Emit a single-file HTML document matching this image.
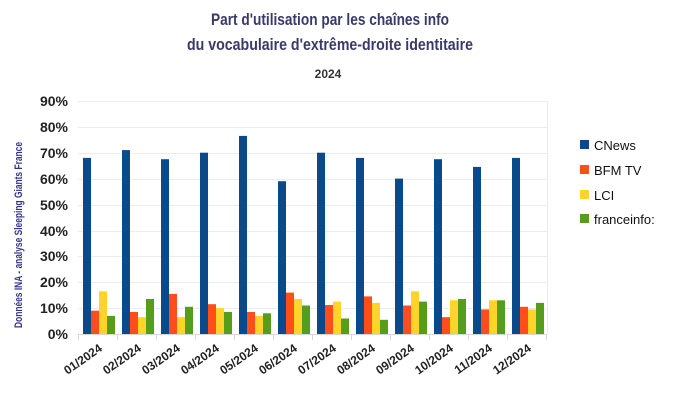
<!DOCTYPE html>
<html><head><meta charset="utf-8"><style>
html,body{margin:0;padding:0;background:#fff;}
svg{display:block;}
.t{font-family:"Liberation Sans Narrow","Liberation Sans",sans-serif;font-weight:bold;}
</style></head><body>
<svg width="684" height="403" viewBox="0 0 684 403" xmlns="http://www.w3.org/2000/svg">
<rect width="684" height="403" fill="#fff"/>
<g class="t" fill="#3a3a6a" text-anchor="middle">
<text x="330" y="25" font-size="17" textLength="238" lengthAdjust="spacingAndGlyphs">Part d'utilisation par les chaînes info</text>
<text x="330" y="50" font-size="17" textLength="286" lengthAdjust="spacingAndGlyphs">du vocabulaire d'extrême-droite identitaire</text>
<text x="328" y="78" font-size="12" fill="#333">2024</text>
</g>
<g stroke="#ececec" stroke-width="1">
<line x1="78" x2="547" y1="101.5" y2="101.5"/><line x1="78" x2="547" y1="127.5" y2="127.5"/>
<line x1="78" x2="547" y1="153.5" y2="153.5"/><line x1="78" x2="547" y1="179.5" y2="179.5"/>
<line x1="78" x2="547" y1="205.5" y2="205.5"/><line x1="78" x2="547" y1="231.5" y2="231.5"/>
<line x1="78" x2="547" y1="256.5" y2="256.5"/><line x1="78" x2="547" y1="282.5" y2="282.5"/>
<line x1="78" x2="547" y1="308.5" y2="308.5"/>
<line x1="547.5" x2="547.5" y1="101" y2="334"/>
</g>
<g stroke="#d8d8d8"><line x1="78" x2="547" y1="334.5" y2="334.5"/>
<line x1="78.5" x2="78.5" y1="334" y2="340"/><line x1="117.5" x2="117.5" y1="334" y2="340"/><line x1="156.5" x2="156.5" y1="334" y2="340"/><line x1="195.5" x2="195.5" y1="334" y2="340"/><line x1="234.5" x2="234.5" y1="334" y2="340"/><line x1="273.5" x2="273.5" y1="334" y2="340"/><line x1="312.5" x2="312.5" y1="334" y2="340"/><line x1="351.5" x2="351.5" y1="334" y2="340"/><line x1="390.5" x2="390.5" y1="334" y2="340"/><line x1="429.5" x2="429.5" y1="334" y2="340"/><line x1="468.5" x2="468.5" y1="334" y2="340"/><line x1="507.5" x2="507.5" y1="334" y2="340"/><line x1="546.5" x2="546.5" y1="334" y2="340"/>
</g>
<g class="t" font-size="14" fill="#222" text-anchor="end">
<text x="68" y="106">90%</text><text x="68" y="132">80%</text><text x="68" y="158">70%</text>
<text x="68" y="184">60%</text><text x="68" y="210">50%</text><text x="68" y="236">40%</text>
<text x="68" y="261">30%</text><text x="68" y="287">20%</text><text x="68" y="313">10%</text>
<text x="68" y="339">0%</text>
</g>
<text class="t" x="0" y="0" font-size="11" fill="#33338a" text-anchor="middle" transform="translate(22,235) rotate(-90)" textLength="186" lengthAdjust="spacingAndGlyphs">Données INA - analyse Sleeping Giants France</text>
<g fill="#0b4a8a">
<rect x="83" y="157.9" width="8" height="176.1"/><rect x="122" y="150.1" width="8" height="183.9"/>
<rect x="161" y="159.2" width="8" height="174.8"/><rect x="200" y="152.7" width="8" height="181.3"/>
<rect x="239" y="135.9" width="8" height="198.1"/><rect x="278" y="181.2" width="8" height="152.8"/>
<rect x="317" y="152.7" width="8" height="181.3"/><rect x="356" y="157.9" width="8" height="176.1"/>
<rect x="395" y="178.6" width="8" height="155.4"/><rect x="434" y="159.2" width="8" height="174.8"/>
<rect x="473" y="166.9" width="8" height="167.1"/><rect x="512" y="157.9" width="8" height="176.1"/>
</g>
<g fill="#ff4e1a">
<rect x="91" y="310.7" width="8" height="23.3"/><rect x="130" y="312" width="8" height="22"/>
<rect x="169" y="293.9" width="8" height="40.1"/><rect x="208" y="304.2" width="8" height="29.8"/>
<rect x="247" y="312" width="8" height="22"/><rect x="286" y="292.6" width="8" height="41.4"/>
<rect x="325" y="305" width="8" height="29"/><rect x="364" y="296.4" width="8" height="37.6"/>
<rect x="403" y="305.5" width="8" height="28.5"/><rect x="442" y="317.2" width="8" height="16.8"/>
<rect x="481" y="309.4" width="8" height="24.6"/><rect x="520" y="306.8" width="8" height="27.2"/>
</g>
<g fill="#ffd42a">
<rect x="99" y="291.3" width="8" height="42.7"/><rect x="138" y="317.2" width="8" height="16.8"/>
<rect x="177" y="317.2" width="8" height="16.8"/><rect x="216" y="308.1" width="8" height="25.9"/>
<rect x="255" y="315.9" width="8" height="18.1"/><rect x="294" y="299" width="8" height="35"/>
<rect x="333" y="301.6" width="8" height="32.4"/><rect x="372" y="302.9" width="8" height="31.1"/>
<rect x="411" y="291.3" width="8" height="42.7"/><rect x="450" y="300.3" width="8" height="33.7"/>
<rect x="489" y="300.3" width="8" height="33.7"/><rect x="528" y="309.4" width="8" height="24.6"/>
</g>
<g fill="#579d1c">
<rect x="107" y="315.9" width="8" height="18.1"/><rect x="146" y="299" width="8" height="35"/>
<rect x="185" y="306.8" width="8" height="27.2"/><rect x="224" y="312" width="8" height="22"/>
<rect x="263" y="313.3" width="8" height="20.7"/><rect x="302" y="305.5" width="8" height="28.5"/>
<rect x="341" y="318.5" width="8" height="15.5"/><rect x="380" y="319.8" width="8" height="14.2"/>
<rect x="419" y="301.6" width="8" height="32.4"/><rect x="458" y="299" width="8" height="35"/>
<rect x="497" y="300.3" width="8" height="33.7"/><rect x="536" y="302.9" width="8" height="31.1"/>
</g>
<g class="t" font-size="12" fill="#222" text-anchor="end">
<text transform="translate(103,350) rotate(-35)">01/2024</text>
<text transform="translate(142,350) rotate(-35)">02/2024</text>
<text transform="translate(181,350) rotate(-35)">03/2024</text>
<text transform="translate(220,350) rotate(-35)">04/2024</text>
<text transform="translate(259,350) rotate(-35)">05/2024</text>
<text transform="translate(298,350) rotate(-35)">06/2024</text>
<text transform="translate(337,350) rotate(-35)">07/2024</text>
<text transform="translate(376,350) rotate(-35)">08/2024</text>
<text transform="translate(415,350) rotate(-35)">09/2024</text>
<text transform="translate(454,350) rotate(-35)">10/2024</text>
<text transform="translate(493,350) rotate(-35)">11/2024</text>
<text transform="translate(532,350) rotate(-35)">12/2024</text>
</g>
<g font-family="Liberation Sans, sans-serif" font-size="13" fill="#111">
<rect x="580" y="140" width="9" height="9" fill="#0b4a8a"/><text x="594" y="150">CNews</text>
<rect x="580" y="165" width="9" height="9" fill="#ff4e1a"/><text x="594" y="175">BFM TV</text>
<rect x="580" y="190" width="9" height="9" fill="#ffd42a"/><text x="594" y="200">LCI</text>
<rect x="580" y="214" width="9" height="9" fill="#579d1c"/><text x="594" y="224">franceinfo:</text>
</g>
</svg>
</body></html>
